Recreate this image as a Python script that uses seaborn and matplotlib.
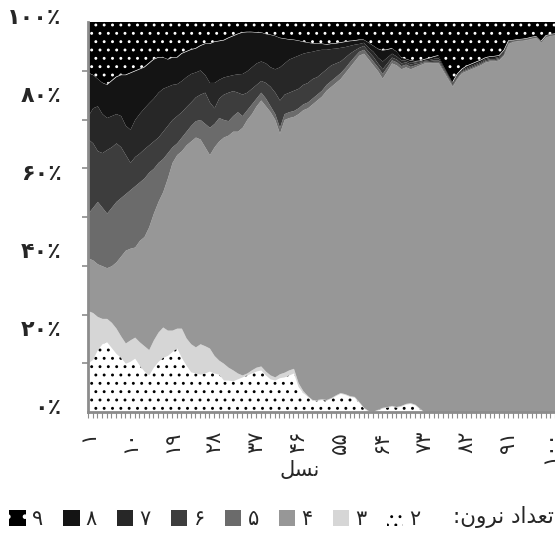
import numpy as np
import matplotlib
matplotlib.use("Agg")
import matplotlib.pyplot as plt
import matplotlib.transforms as mtransforms
from matplotlib.patches import Patch
from matplotlib.ticker import FixedLocator, MultipleLocator
import seaborn as sns

# Generations (x axis)
gens = list(range(1, 102))

# Cumulative share (%) of the population with at most n neurons,
# i.e. the upper edge of each band of the 100% stacked area chart.
cum_2 = [12.6, 13.5, 16, 17.5, 18, 16.5, 15, 14, 12.5, 13,
         13.8, 12, 10.5, 9.5, 11.5, 13, 14, 14.5, 15.5, 16.4,
         14, 12, 10.3, 10, 9.7, 10, 10.5, 10, 9.7, 8.2,
         8.2, 8, 8.5, 9, 9.5, 10, 10.5, 10.8, 9.5, 8.5,
         8.2, 8.8, 9, 9.5, 10, 6.5, 5, 4, 3, 3,
         3.2, 3, 3.5, 4.2, 4.8, 4.5, 4, 3.8, 2.5, 1,
         0.2, 0, 0.5, 1, 1.2, 1.5, 1.2, 1.5, 2, 2.2,
         1.8, 0.8, 0, 0, 0, 0, 0, 0, 0, 0,
         0, 0, 0, 0, 0, 0, 0, 0, 0, 0,
         0, 0, 0, 0, 0, 0, 0, 0, 0, 0,
         0]
cum_3 = [26, 25.5, 24.5, 24, 24, 23, 21.5, 19.5, 17.7, 18.5,
         19.2, 18, 17, 16, 18.5, 20.5, 21.8, 21, 21, 21.5,
         21.5, 19, 17.5, 16.7, 17.5, 17, 16.4, 14.5, 13.3, 12.5,
         11.5, 10.8, 10, 9.5, 10, 10.8, 11.5, 11.8, 10.5, 9.5,
         9, 9.8, 10.2, 10.8, 11.2, 7.5, 5.5, 4.2, 3.2, 3.2,
         3.4, 3.2, 3.7, 4.4, 5, 4.7, 4.2, 4, 2.7, 1.2,
         0.4, 0.2, 0.7, 1.2, 1.4, 1.7, 1.4, 1.7, 2.2, 2.4,
         2, 1, 0, 0, 0, 0, 0, 0, 0, 0,
         0, 0, 0, 0, 0, 0, 0, 0, 0, 0,
         0, 0, 0, 0, 0, 0, 0, 0, 0, 0,
         0]
cum_4 = [39.5, 39, 38, 37.5, 37, 37.5, 38.5, 40, 41.5, 42,
         42.3, 44, 45, 47.5, 51, 54, 56.5, 60, 64, 66,
         67, 68.5, 69.5, 70.5, 70, 68, 66, 68, 69.5, 70.5,
         71, 72, 72, 73, 75, 76.5, 78.5, 80, 78.5, 77,
         75, 71.5, 75, 75.5, 75.8, 76.5, 77.5, 78, 79, 80,
         81, 82.5, 83.5, 84.5, 85.5, 87, 88.5, 90, 91.5, 92,
         90.5, 89, 87.5, 85.6, 87.5, 89.5, 89, 88, 88.5, 88,
         88.5, 89, 89.5, 89.5, 89.5, 89.5, 87.5, 85.5, 83.5, 85.5,
         87, 87.5, 88, 88.5, 89, 89.7, 90, 90, 90.3, 91.5,
         94.5, 95, 95.2, 95.3, 95.5, 95.8, 96, 94.8, 96.2, 96.5,
         96.7]
cum_5 = [51, 52.5, 54, 52.5, 51, 52.5, 54, 55, 56, 57,
         58, 59, 60, 61.5, 62.5, 64, 65, 66.5, 68, 69,
         70.5, 72, 73.5, 74.7, 75, 74, 73, 74, 75.5, 75,
         74.7, 76, 77, 76, 77.5, 79, 80.5, 82, 80.5, 78.5,
         76.5, 73, 76.5, 77, 77.3, 78, 79, 79.5, 80.5, 81.5,
         82.5, 84, 85, 86, 87, 88.3, 89.8, 91.2, 92.5, 93,
         91.5, 90, 88.5, 86.8, 88.5, 90.3, 89.8, 88.8, 89.2, 88.6,
         89, 89.4, 89.8, 89.8, 89.9, 89.9, 87.9, 85.9, 83.8, 85.8,
         87.3, 87.8, 88.3, 88.8, 89.3, 90, 90.3, 90.3, 90.6, 91.8,
         94.7, 95.1, 95.3, 95.4, 95.6, 95.9, 96.1, 94.9, 96.3, 96.6,
         96.8]
cum_6 = [70, 69, 67, 66.5, 67.3, 68, 69, 68, 66, 64,
         65.5, 66.4, 67.5, 68.5, 69.5, 70.5, 72, 73.5, 75, 76,
         77, 78.3, 79.5, 80.8, 81.5, 82, 79.5, 78, 80.5, 81.5,
         82, 82.4, 82, 81.5, 82, 83, 84, 85, 84.5, 83.5,
         82, 80, 81.5, 82, 82.5, 83, 84, 84.5, 85.5, 86,
         87, 88, 89, 89.5, 90, 91, 92, 92.8, 93.5, 94,
         92.5, 91.2, 89.5, 88, 89.5, 91, 90.5, 89.5, 89.8, 89.2,
         89.5, 89.7, 90, 90.1, 90.3, 90.3, 88.3, 86.2, 84.1, 86.1,
         87.5, 88.1, 88.6, 89.1, 89.6, 90.3, 90.6, 90.6, 90.9, 92.1,
         94.9, 95.2, 95.4, 95.5, 95.7, 96, 96.2, 95, 96.4, 96.7,
         96.9]
cum_7 = [76, 78, 78.5, 76.5, 75.5, 76, 76.5, 76, 73.5, 72.5,
         75, 76.6, 78, 79.3, 80.5, 82, 83, 83.5, 84, 84.2,
         85, 86, 86.8, 87.2, 87.7, 86.5, 84.5, 84.5, 85.3, 85.9,
         86.2, 86.5, 86.7, 86.8, 87.5, 88.5, 89.5, 90, 89.5, 88.5,
         88, 88.5, 89.5, 90.5, 91, 91.5, 92, 92.3, 92.5, 92.8,
         93, 93, 93.2, 93.3, 93.5, 93.7, 94, 94.3, 94.5, 94.8,
         93.5, 92.5, 91, 90, 91, 92, 91.3, 90.3, 90.2, 89.7,
         89.8, 89.9, 90.2, 90.4, 90.7, 90.8, 88.7, 86.5, 84.4, 86.4,
         87.8, 88.4, 88.9, 89.4, 89.9, 90.6, 90.9, 90.9, 91.2, 92.4,
         95.1, 95.3, 95.5, 95.6, 95.8, 96.1, 96.3, 95.1, 96.5, 96.8,
         97]
cum_8 = [87, 86.5, 85.5, 84.5, 84, 85, 86, 86.5, 86.5, 87,
         87.5, 88, 88.5, 89.5, 90.5, 91, 91, 90.5, 91, 91,
         92, 92.5, 93, 93.3, 94, 94.5, 94.5, 95, 95.2, 95.4,
         96, 96.5, 97, 97.4, 97.5, 97.5, 97.4, 97.4, 97, 96.8,
         96.5, 96, 95.8, 95.6, 95.5, 95.3, 95, 94.8, 94.6, 94.5,
         94.5, 94.3, 94.5, 94.6, 94.8, 95, 95.2, 95.3, 95.5, 95.5,
         94.8, 94, 93.2, 92.8, 93, 93.3, 92.5, 91, 90.6, 90.2,
         90, 90.1, 90.5, 90.8, 91.2, 91.5, 89, 86.8, 84.6, 86.7,
         88, 88.8, 89.3, 89.8, 90.3, 90.9, 91.2, 91.3, 91.5, 92.8,
         95.3, 95.4, 95.6, 95.7, 95.9, 96.2, 96.4, 95.2, 96.6, 96.9,
         97.1]

neurons = [2, 3, 4, 5, 6, 7, 8, 9]
colors = ["#ffffff", "#d6d6d6", "#979797", "#6b6b6b",
          "#3d3d3d", "#272727", "#141414", "#000000"]
xtick_gens = [1, 10, 19, 28, 37, 46, 55, 64, 73, 82, 91, 100]
ytick_pcts = [0, 20, 40, 60, 80, 100]

FA = str.maketrans("0123456789", "۰۱۲۳۴۵۶۷۸۹")


def fa(n):
    return str(n).translate(FA)


# Arabic-script strings in shaped presentation forms, visual (left-to-right) order
xlabel_txt = "\uFEDE\uFEB4\uFEE7"  # نسل
legend_title = ":\uFEE5\uFEED\uFEAE\uFEE7 \uFEA9\uFE8D\uFEAA\uFECC\uFE97"  # تعداد نرون:

sns.set_style("white")
plt.rcParams["font.family"] = ["DejaVu Sans"]
plt.rcParams["hatch.linewidth"] = 0.9

fig = plt.figure(figsize=(5.55, 5.35), dpi=100)
ax = fig.add_axes([88 / 555, 123 / 535, 467 / 555, 390 / 535])

# stack the cumulative edges back into per-band shares
edges = np.vstack([np.zeros(len(gens)), cum_2, cum_3, cum_4, cum_5,
                   cum_6, cum_7, cum_8, np.full(len(gens), 100.0)])
shares = np.diff(edges, axis=0)

polys = ax.stackplot(gens, shares, colors=colors, linewidth=0)
polys[0].set_hatch("..")
polys[0].set_edgecolor("black")
polys[0].set_linewidth(0)
polys[-1].set_hatch("..")
polys[-1].set_edgecolor("white")
polys[-1].set_linewidth(0)

ax.set_xlim(1, 101)
ax.set_ylim(0, 100)

axis_grey = "#8c8c8c"
ax.xaxis.set_major_locator(FixedLocator(xtick_gens))
ax.xaxis.set_minor_locator(MultipleLocator(1))
ax.set_xticklabels([fa(g) for g in xtick_gens], rotation=90, fontsize=15)
ax.tick_params(axis="x", which="both", bottom=True, direction="out",
               length=4.5, width=0.8, color=axis_grey, pad=9)

ax.yaxis.set_major_locator(FixedLocator(ytick_pcts))
ax.yaxis.set_minor_locator(MultipleLocator(12.5))
ax.set_yticklabels([fa(p) + "\u066A" for p in ytick_pcts],
                   fontsize=16, fontweight="bold")
ax.tick_params(axis="y", which="major", left=True, length=0, pad=19)
ax.tick_params(axis="y", which="minor", left=True, direction="inout",
               length=9, width=1.2, color=axis_grey)
shift = mtransforms.ScaledTranslation(0, 4 / 72, fig.dpi_scale_trans)
for lab in ax.get_yticklabels():
    lab.set_transform(lab.get_transform() + shift)

sns.despine(ax=ax)
for side in ["left", "bottom"]:
    ax.spines[side].set_color(axis_grey)
    ax.spines[side].set_linewidth(2)

fig.text(300 / 555, 1 - 470 / 535, xlabel_txt, ha="center", va="center",
         fontsize=15)

# legend: 9 on the left ... 2 on the right, title at the far right
handles = []
for n, c in zip(neurons, colors):
    if n == 2:
        handles.append(Patch(facecolor=c, edgecolor="black", hatch="..", linewidth=0))
    elif n == 9:
        handles.append(Patch(facecolor=c, edgecolor="white", hatch=".", linewidth=0))
    else:
        handles.append(Patch(facecolor=c, linewidth=0))
labels = [fa(n) for n in neurons]
fig.legend(handles[::-1], labels[::-1], ncol=8, loc="center left",
           bbox_to_anchor=(9 / 555, 1 - 519 / 535), frameon=False,
           fontsize=15, handlelength=0.8, handleheight=0.8,
           handletextpad=0.3, columnspacing=0.95, borderpad=0,
           borderaxespad=0)
fig.text(554 / 555, 1 - 517 / 535, legend_title, ha="right", va="center",
         fontsize=15.5)

fig.savefig("out.png", dpi=100)
